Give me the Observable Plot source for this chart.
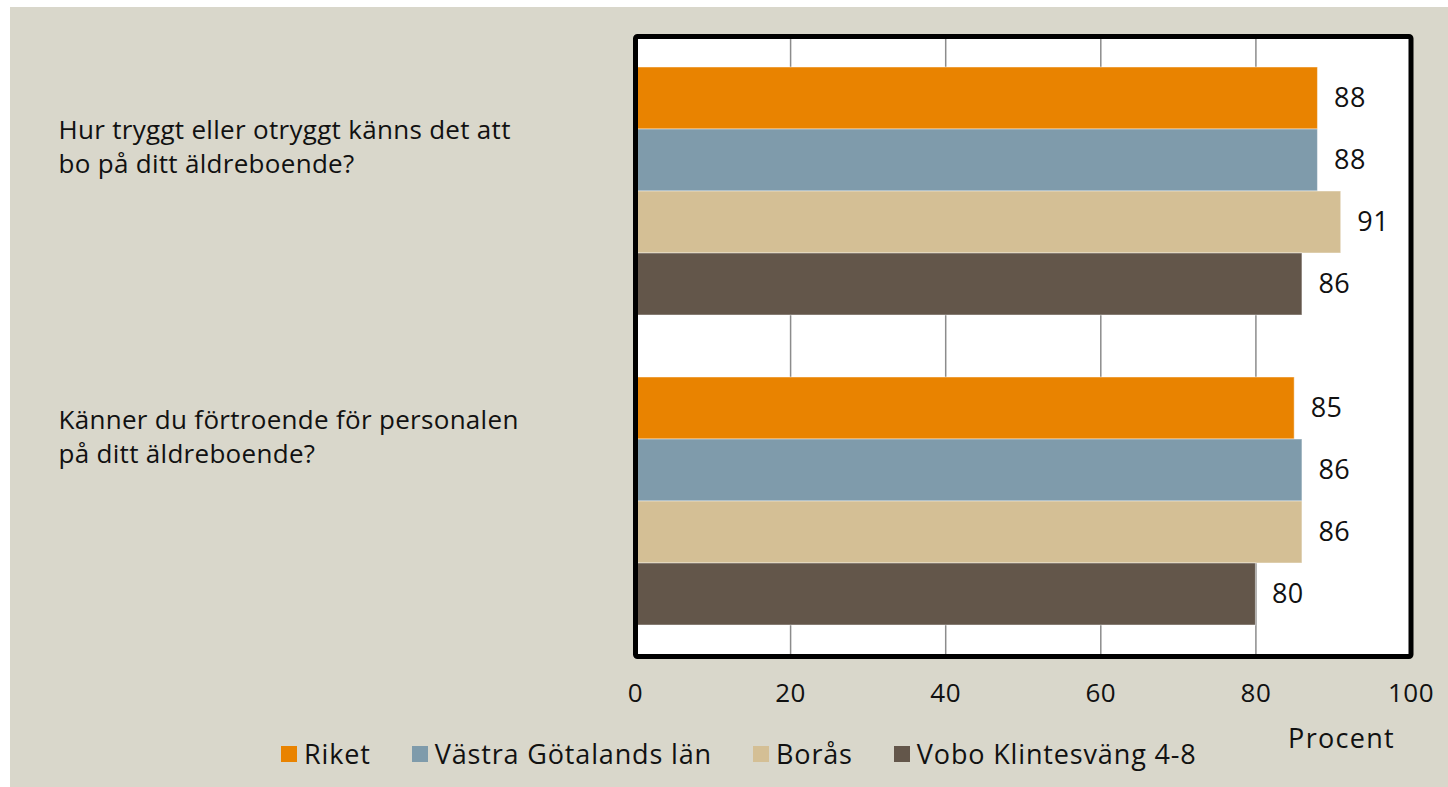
<!DOCTYPE html>
<html>
<head>
<meta charset="utf-8">
<script src="https://cdn.jsdelivr.net/npm/d3@7"></script>
<script src="https://cdn.jsdelivr.net/npm/@observablehq/plot@0.6"></script>
<style>
  html, body { margin: 0; padding: 0; background: #ffffff; }
  #wrap { position: absolute; left: 10px; top: 7px; width: 1438px; height: 780px; background: #d9d7cb; overflow: hidden; font-family: "Open Sans", sans-serif; }
  #chart { position: absolute; left: 0; top: 0; }
  #legend { position: absolute; left: 271px; top: 728px; display: flex; align-items: center; gap: 41px; font-size: 27px; letter-spacing: 0.85px; color: #111; }
  .item { display: flex; align-items: center; }
  .sw { width: 16px; height: 16px; margin-right: 7px; }
</style>
</head>
<body>
<div id="wrap">
  <div id="chart"></div>
  <div id="legend"></div>
</div>
<script>
const questions = [
  "Hur tryggt eller otryggt känns det att\nbo på ditt äldreboende?",
  "Känner du förtroende för personalen\npå ditt äldreboende?"
];
const series = ["Riket", "Västra Götalands län", "Borås", "Vobo Klintesväng 4-8"];
const colors = ["#e98300", "#7f9bab", "#d4bf95", "#63564a"];
const valuesQ1 = [88, 88, 91, 86];
const valuesQ2 = [85, 86, 86, 80];
const xTicks = [0, 20, 40, 60, 80, 100];
const axisLabel = "Procent";

const allValues = [valuesQ1, valuesQ2];
const rows = [];
questions.forEach((q, qi) => {
  series.forEach((s, si) => {
    rows.push({ q: qi, series: s, key: qi + "|" + s, value: allValues[qi][si] });
  });
});
const yDomain = [
  ...series.map(s => "0|" + s),
  "gap",
  ...series.map(s => "1|" + s)
];

const qLabel = (qi, dy) => Plot.text([{ key: qi + "|" + series[0], t: questions[qi] }], {
  y: "key", text: "t", frameAnchor: "left", textAnchor: "start",
  dx: -577, dy, fontSize: 26, lineHeight: 34 / 26, fill: "#111"
});

const chart = Plot.plot({
  width: 1438,
  height: 780,
  marginLeft: 625,
  marginRight: 37.5,
  marginTop: 29,
  marginBottom: 131,
  style: { fontFamily: "Open Sans, sans-serif", fontSize: "26px", color: "#111", background: "transparent" },
  x: { domain: [0, 100], ticks: xTicks, tickSize: 0, tickPadding: 27, label: null },
  y: { domain: yDomain, axis: null, paddingInner: 0, paddingOuter: 0.5 },
  color: { domain: series, range: colors },
  marks: [
    Plot.frame({ fill: "white" }),
    Plot.ruleX(xTicks.filter(t => t > 0 && t < 100), { stroke: "#8c8c8c", strokeWidth: 1.5 }),
    Plot.barX(rows, { x: "value", y: "key", fill: "series", stroke: "#ffffff", strokeOpacity: 0.45, strokeWidth: 1 }),
    Plot.text(rows, { x: "value", y: "key", text: d => String(d.value), textAnchor: "start", dx: 16, fontSize: 27, fill: "#111" }),
    qLabel(0, 47),
    qLabel(1, 27),
    Plot.text([axisLabel], { text: d => d, frameAnchor: "bottom-right", textAnchor: "end", dx: -16, dy: 91, fontSize: 27, fill: "#111" }),
    Plot.frame({ stroke: "black", strokeWidth: 5, rx: 2 })
  ]
});
document.getElementById("chart").appendChild(chart);

// widen the text a little to match the wider original typeface
const firstLines = questions.map(q => q.split("\n")[0]);
d3.select(chart).selectAll("text").each(function () {
  const t = this.textContent;
  if (firstLines.some(l => t.startsWith(l))) this.style.letterSpacing = "0.3px";
  else if (t === axisLabel) this.style.letterSpacing = "1.3px";
  else if (/^\d+$/.test(t)) this.style.letterSpacing = "0.5px";
});

const legend = d3.select("#legend");
series.forEach((s, i) => {
  const it = legend.append("div").attr("class", "item");
  it.append("div").attr("class", "sw").style("background", colors[i]);
  it.append("span").text(s);
});
</script>
</body>
</html>
